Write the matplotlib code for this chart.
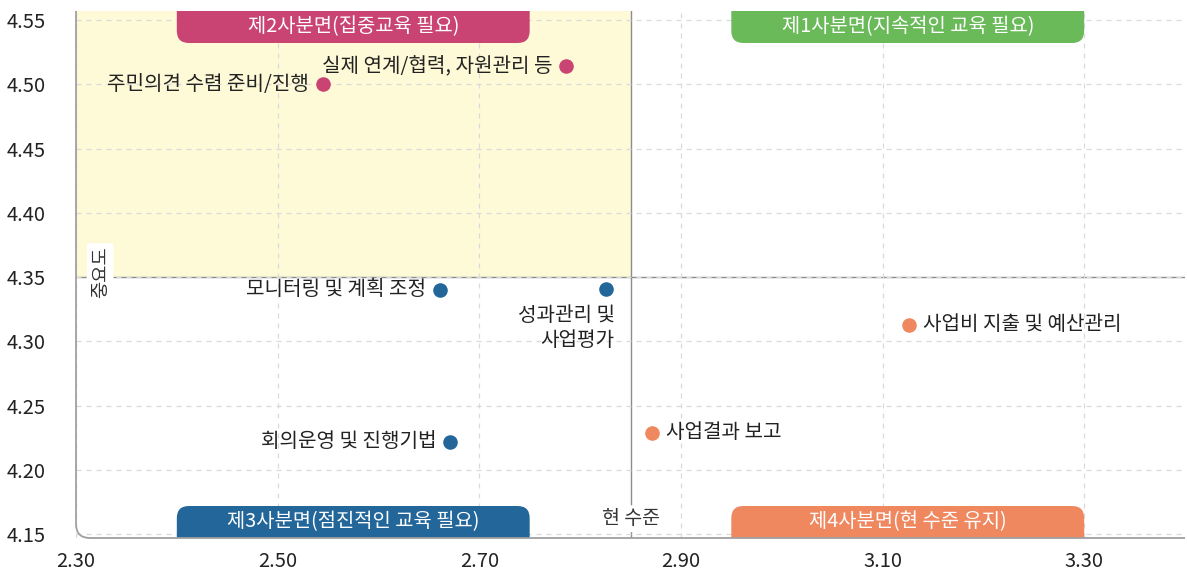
import matplotlib
matplotlib.use("Agg")
import matplotlib.pyplot as plt
from matplotlib.patches import FancyBboxPatch, Rectangle, PathPatch
from matplotlib.path import Path

plt.rcParams['font.family'] = ['Noto Sans CJK KR', 'DejaVu Sans']

# ---- data ----
labels = ["주민의견 수렴 준비/진행", "실제 연계/협력, 자원관리 등", "모니터링 및 계획 조정",
          "성과관리 및\n사업평가", "회의운영 및 진행기법", "사업결과 보고", "사업비 지출 및 예산관리"]
level = [2.545, 2.786, 2.661, 2.826, 2.671, 2.871, 3.126]        # 현 수준 (x)
importance = [4.500, 4.514, 4.340, 4.341, 4.222, 4.229, 4.313]   # 중요도 (y)
groups = ["q2", "q2", "q3", "q3", "q3", "q4", "q4"]
x_ticks = [2.30, 2.50, 2.70, 2.90, 3.10, 3.30]
y_ticks = [4.15, 4.20, 4.25, 4.30, 4.35, 4.40, 4.45, 4.50, 4.55]
x_mean = 2.85
y_mean = 4.35
quad_titles = {"q1": "제1사분면(지속적인 교육 필요)", "q2": "제2사분면(집중교육 필요)",
               "q3": "제3사분면(점진적인 교육 필요)", "q4": "제4사분면(현 수준 유지)"}

colors = {"q1": "#6ABA5A", "q2": "#C94472", "q3": "#22669A", "q4": "#EF875F"}
# label placement: (dx, dy, ha, va) in points
placement = [(-10, 0, "right", "center"), (-10, 0, "right", "center"), (-10, 0, "right", "center"),
             (6, -12, "right", "top"), (-10, 0, "right", "center"), (10, 0, "left", "center"),
             (10, 0, "left", "center")]

fig = plt.figure(figsize=(11.87, 5.74), dpi=100)
ax = fig.add_axes([76/1187, 36/574, 1109/1187, 527/574])
xlim = (2.30, 3.40)
ylim = (4.147, 4.557)
ax.set_xlim(*xlim)
ax.set_ylim(*ylim)

# quadrant 2 background
ax.add_patch(Rectangle((xlim[0], y_mean), x_mean - xlim[0], ylim[1] - y_mean,
                       facecolor="#FEFAD7", edgecolor="none", zorder=0))

ax.set_xticks(x_ticks)
ax.set_yticks(y_ticks)
ax.set_xticklabels([f"{v:.2f}" for v in x_ticks], fontsize=14.5, color="#222222")
ax.set_yticklabels([f"{v:.2f}" for v in y_ticks], fontsize=14.5, color="#222222")
ax.tick_params(axis='x', length=0, pad=9.5)
ax.tick_params(axis='y', length=0, pad=22)
ax.grid(True, linestyle=(0, (4, 4)), color="#DADADA", linewidth=0.9, zorder=0.5)
for s in ax.spines.values():
    s.set_visible(False)

# axis frame with rounded bottom-left corner
rx, ry = 14/1109, 14/527
verts = [(0, 1), (0, ry), (0, 0), (rx, 0), (1, 0)]
codes = [Path.MOVETO, Path.LINETO, Path.CURVE3, Path.CURVE3, Path.LINETO]
ax.add_patch(PathPatch(Path(verts, codes), transform=ax.transAxes, facecolor="none",
                       edgecolor="#A0A0A0", linewidth=1.3, clip_on=False, zorder=3))

# mean lines
ax.axvline(x_mean, color="#8C8C8C", linewidth=1.0, zorder=1)
ax.axhline(y_mean, color="#8C8C8C", linewidth=1.0, zorder=1)

# quadrant title boxes
box_h = 32 / 527 * (ylim[1] - ylim[0])
aspect = ((ylim[1] - ylim[0]) / 527) / ((xlim[1] - xlim[0]) / 1109)
ext = 0.03
def qbox(x0, x1, top, key):
    if top:
        y0 = ylim[1] - box_h
        by = y0
    else:
        y0 = ylim[0]
        by = y0 - ext
    p = FancyBboxPatch((x0, by), x1 - x0, box_h + ext,
                       boxstyle="round,pad=0,rounding_size=0.012",
                       mutation_aspect=aspect,
                       facecolor=colors[key], edgecolor="none", zorder=2, clip_on=True)
    ax.add_patch(p)
    ax.text((x0 + x1) / 2, y0 + box_h / 2, quad_titles[key], color="white", fontsize=14.3,
            ha="center", va="center", zorder=4)

qbox(2.40, 2.75, True, "q2")
qbox(2.95, 3.30, True, "q1")
qbox(2.40, 2.75, False, "q3")
qbox(2.95, 3.30, False, "q4")

# points
for xv, yv, g, lab, (dx, dy, ha, va) in zip(level, importance, groups, labels, placement):
    ax.scatter(xv, yv, s=110, color=colors[g], zorder=5, linewidths=0)
    ax.annotate(lab, (xv, yv), xytext=(dx, dy), textcoords="offset points",
                ha=ha, va=va, fontsize=14.5, color="#222222", zorder=6, linespacing=1.25)

# axis names
ax.text(2.324, y_mean + 0.004, "중요도", rotation=90, ha="center", va="center", fontsize=13.5,
        color="#333333", zorder=6,
        bbox=dict(boxstyle="round,pad=0.15", facecolor="white", edgecolor="none"))
ax.text(x_mean, 4.162, "현 수준", ha="center", va="center", fontsize=14,
        color="#333333", zorder=6,
        bbox=dict(boxstyle="round,pad=0.15", facecolor="white", edgecolor="none"))

fig.savefig("out.png", dpi=100)
